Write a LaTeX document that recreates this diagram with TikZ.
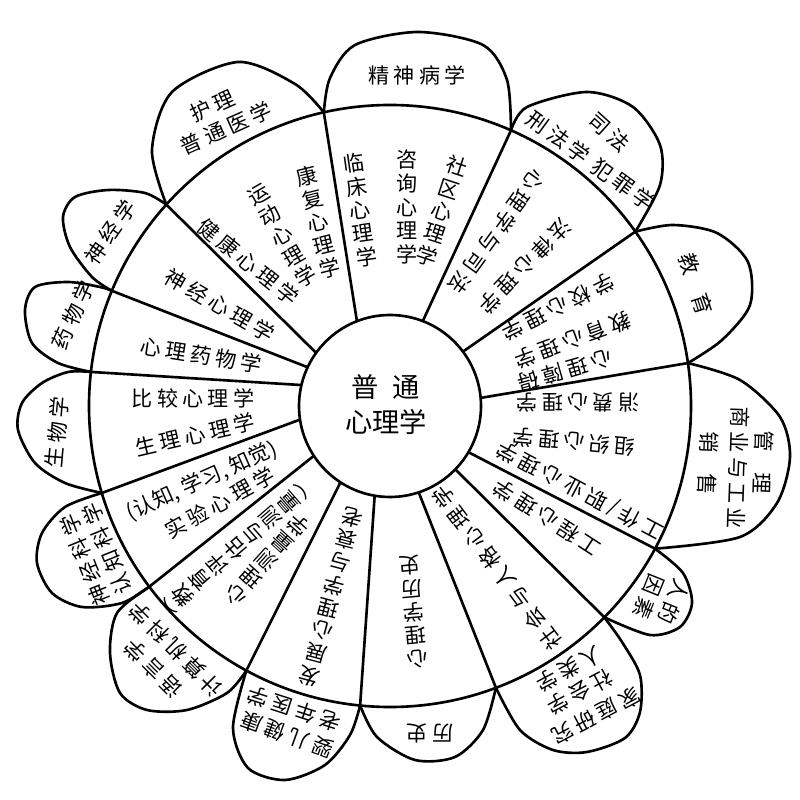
\documentclass[tikz,border=0pt]{standalone}
\usepackage{fontspec}
\setmainfont{Noto Sans CJK SC}
\newfontfamily\wide[LetterSpace=20]{Noto Sans CJK SC}

\begin{document}
\begin{tikzpicture}[x=0.02cm, y=0.02cm, line width=1.5pt,
    txt/.style={font=\wide\fontsize{12}{14}\selectfont, inner sep=0pt},
    col/.style={font=\fontsize{12}{13.4}\selectfont, align=center, inner sep=0pt}]

\useasboundingbox (-390,-394) rectangle (410,406);

% ring and centre
\draw (0,0) circle (301);
\draw (0,0) circle (91);

% spokes: inner angle / outer angle
\foreach \a/\b [count=\i] in {111.3/102.7, 68.9/66.3, 36.7/35.4, 5.1/8.2,
    -30.5/-28.3, -44.1/-44.6, -71.6/-69.4, -99.7/-95.7, -123/-118.5,
    -146.8/-143.1, 188.6/196.8, 166.7/173.5, 154.8/157.5, 144.3/138.0} {
  \coordinate (s\i) at (\a:91);
  \coordinate (j\i) at (\b:301);
  \draw (s\i) -- (j\i);
}

% petals
\draw plot[smooth] coordinates {(j14) (-238,256) (-218,314) (-152,344) (-95,322) (j1)};
\draw plot[smooth] coordinates {(j1) (-60,328) (-35,361) (28,374) (93,361) (117,326) (j2)};
\draw plot[smooth] coordinates {(j2) (137,299) (197,314) (243,299) (270,261) (270,221) (j3)};
\draw plot[smooth] coordinates {(j3) (283,181) (327,173) (358,144) (360,101) (332,66) (j4)};
\draw plot[smooth] coordinates {(j4) (350,26) (390,-11) (400,-51) (387,-97) (350,-131) (j5)};
\draw plot[smooth] coordinates {(j5) (293,-167) (302,-197) (290,-221) (260,-229) (j6)};
\draw plot[smooth] coordinates {(j6) (232,-236) (250,-269) (250,-306) (235,-332) (197,-346) (163,-344) (130,-324) (j7)};
\draw plot[smooth] coordinates {(j7) (93,-324) (65,-351) (25,-354) (-13,-331) (j8)};
\draw plot[smooth] coordinates {(j8) (-40,-329) (-65,-359) (-105,-374) (-142,-362) (-157,-322) (j9)};
\draw plot[smooth] coordinates {(j9) (-163,-287) (-203,-304) (-243,-304) (-270,-287) (-280,-247) (-273,-207) (j10)};
\draw plot[smooth] coordinates {(j10) (-268,-197) (-308,-201) (-338,-187) (-353,-157) (-348,-127) (-325,-101) (j11)};
\draw plot[smooth] coordinates {(j11) (-325,-77) (-355,-57) (-372,-24) (-368,3) (-348,23) (-322,34) (j12)};
\draw plot[smooth] coordinates {(j12) (-332,43) (-358,63) (-365,96) (-355,119) (-322,124) (-290,119) (j13)};
\draw plot[smooth] coordinates {(j13) (-298,129) (-320,159) (-327,189) (-315,209) (-282,216) (-245,213) (j14)};

\node[font=\fontsize{15.5}{20}\selectfont, align=center] (general) at (-4,1) {普\hspace{.5em}通\\心理学};

% ring texts
\node[col, rotate=14] (rehab) at (-72,184) {康\\复\\心\\理\\学};
\node[col, rotate=30] (sport) at (-108,170) {运\\动\\心\\理\\学};
\node[txt, rotate=-39] (health) at (-142,144) {健康心理学};
\node[col, rotate=8] (clinic) at (-30,196) {临\\床\\心\\理\\学};
\node[col] (counsel) at (17,199) {咨\\询\\心\\理\\学};
\node[col, rotate=-18] (commun) at (52,195) {社\\区\\心\\理\\学};
\node[txt, rotate=-126] (forensic) at (107,174) {心理学与司法};
\node[txt, rotate=-134] (legal) at (135,140) {法律心理学};
\node[txt, rotate=-154] (school) at (168,99) {学校心理学};
\node[txt, rotate=-160] (educ) at (183,66) {教育心理学};
\node[txt, rotate=-164] (disab) at (175,35) {心理障碍};
\node[txt, rotate=180] (consum) at (188,3) {消费心理学};
\node[txt, rotate=175] (organ) at (184,-36) {组织心理学};
\node[txt, rotate=152] (work) at (190,-84) {工作/职业心理学};
\node[txt, rotate=147] (engin) at (157,-112) {工程心理学};
\node[txt, rotate=127] (social) at (107,-162) {社会与人格心理学};
\node[col, rotate=185] (hist) at (24,-206) {心\\理\\学\\历\\史};
\node[col, rotate=165] (devel) at (-59,-191) {发\\展\\心\\理\\学\\与\\衰\\老};
\node[col, rotate=131] (measure) at (-150,-139) {︵\\教\\育\\评\\估\\与\\测\\量\\︶};
\node[col, rotate=138] (psychom) at (-123,-154) {心\\理\\测\\量\\学};
\node[col, rotate=24] (cogn) at (-188,-75) {(认知, 学习, 知觉)};
\node[txt, rotate=29] (exper) at (-170,-97) {实验心理学};
\node[txt] (compar) at (-197,8) {比较心理学};
\node[txt, rotate=13] (physio) at (-195,-29) {生理心理学};
\node[txt, rotate=-9] (pharma) at (-189,51) {心理药物学};
\node[txt, rotate=-30] (neuro) at (-170,101) {神经心理学};

% petal texts
\node[txt, rotate=24] (nurse) at (-178,300) {护理};
\node[txt, rotate=24] (medic) at (-164,278) {普通医学};
\node[txt] (psychiat) at (27,331) {精神病学};
\node[txt, rotate=-42] (justice) at (219,274) {司法};
\node[txt, rotate=-36] (crimin) at (201,245) {刑法学\hspace{0.4em}犯罪学};
\node[txt, rotate=-72] (edupet) at (306,122) {教\hspace{1em}育};
\node[txt, rotate=-92] (manage) at (373,-56) {管\hspace{1em}理};
\node[txt, rotate=-92] (industry) at (348,-62) {商业与工业};
\node[txt, rotate=-92] (sales) at (318,-57) {销\hspace{1em}售};
\node[txt, rotate=-112] (human) at (284,-196) {人的};
\node[txt, rotate=-112] (factor) at (259,-191) {因素};
\node[txt, rotate=-152] (family) at (206,-310) {家庭研究};
\node[txt, rotate=-152] (sociol) at (190,-286) {社会学};
\node[txt, rotate=-152] (anthro) at (179,-263) {人类学};
\node[txt, rotate=180] (histpet) at (40,-327) {历史};
\node[txt, rotate=160] (infant) at (-103,-329) {婴儿健康};
\node[txt, rotate=162] (geriat) at (-96,-303) {老年医学};
\node[txt, rotate=135] (lingu) at (-237,-263) {语言学};
\node[txt, rotate=135] (comput) at (-214,-244) {计算机科学};
\node[txt, rotate=112] (neurosci) at (-305,-154) {神经科学};
\node[txt, rotate=112] (cogsci) at (-283,-143) {认知科学};
\node[txt, rotate=85] (biol) at (-333,-26) {生物学};
\node[txt, rotate=66] (pharmpet) at (-317,91) {药物学};
\node[txt, rotate=55] (neurol) at (-280,174) {神经学};

\end{tikzpicture}
\end{document}
